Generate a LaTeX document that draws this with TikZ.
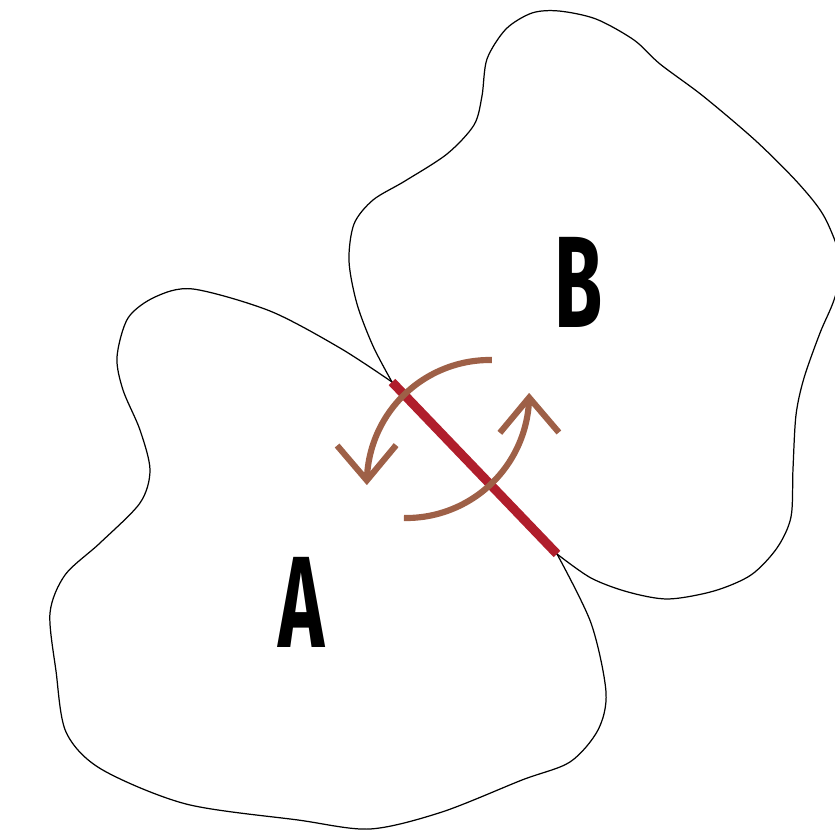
\documentclass[tikz,border=0pt]{standalone}
\usepackage{fontspec}
\setmainfont{Fira Sans}
\usetikzlibrary{arrows.meta,bending}
\definecolor{contactred}{HTML}{B01E2C}
\definecolor{spinbrown}{HTML}{9E6047}
\newcommand{\narrowtext}[1]{\scalebox{0.6}[1]{#1}}
\begin{document}
\begin{tikzpicture}[x=0.01cm, y=-0.01cm,
    outline/.style={line width=0.35pt},
    contact/.style={line width=2.6pt, color=contactred},
    spin/.style={line width=1.75pt, color=spinbrown, -{Straight Barb[length=0.35cm, width=0.59cm, flex=1.6]}},
    region/.style={inner sep=0pt, font=\fontsize{37}{37}\selectfont\bfseries}]
    \useasboundingbox (0,0) rectangle (835,830);
    \clip (0,0) rectangle (835,830);
    \coordinate (top) at (392,382);
    \coordinate (bottom) at (557,554);
    % body A
    \draw[outline] plot[smooth] coordinates {(top) (340,348) (270,311) (193,289) (155,297) (128,318) (117,357) (123,390) (140,430) (150,470) (140,503) (100,543) (65,575) (50,613) (56,671) (66,732) (101,769) (186,804) (298,820) (370,829) (442,812) (522,780) (570,762) (598,730) (606,692) (591,623) (bottom)} -- cycle;
    % body B
    \draw[outline] plot[smooth] coordinates {(top) (373,346) (357,304) (349,261) (354,224) (373,200) (405,181) (447,154) (474,125) (482,96) (487,59) (506,29) (532,13) (559,11) (596,19) (634,40) (660,64) (703,96) (756,141) (799,184) (825,218) (842,265) (834,300) (820,333) (804,378) (796,415) (793,469) (791,517) (777,548) (751,575) (714,591) (668,599) (628,592) (591,578) (bottom)} -- cycle;
    % contact line
    \draw[contact] (top) -- (bottom);
    % rotation arrows
    \coordinate (spin1) at (492,360);
    \coordinate (spin2) at (404,518);
    \draw[spin] (spin1) arc[start angle=-89, end angle=-181, radius=123];
    \draw[spin] (spin2) arc[start angle=91, end angle=-1, radius=123];
    \node[region] (A) at (301.5,602) {\narrowtext{A}};
    \node[region] (B) at (578.5,282.5) {\narrowtext{B}};
\end{tikzpicture}
\end{document}
